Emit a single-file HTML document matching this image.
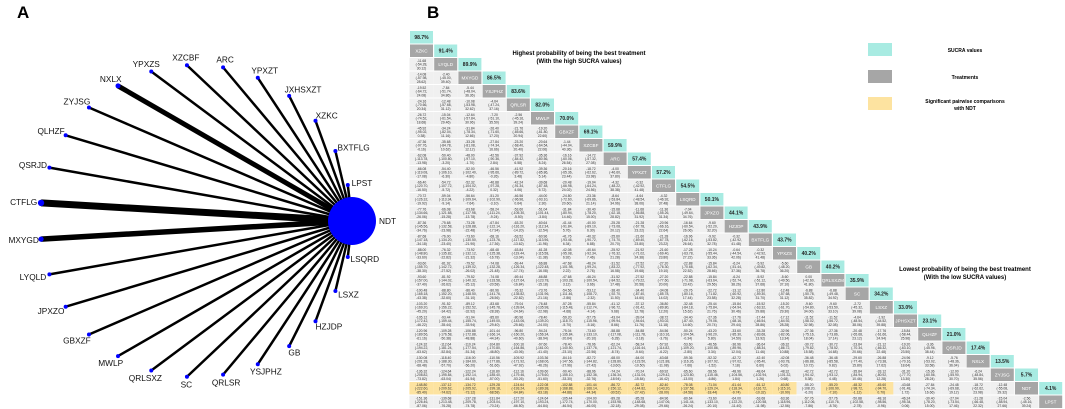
<!DOCTYPE html>
<html><head><meta charset="utf-8">
<style>
html,body{margin:0;padding:0;background:#fff;}
svg{display:block;font-family:"Liberation Sans",sans-serif;}
</style></head>
<body>
<svg id="fig" width="1065" height="409" viewBox="0 0 1065 409" xmlns="http://www.w3.org/2000/svg">
  <text x="17" y="18" font-size="17" font-weight="bold">A</text>
  <text x="427" y="18" font-size="17" font-weight="bold">B</text>
  <g id="network"></g>
  <g id="league"></g>
  <text x="579" y="55" font-size="6" font-weight="bold" text-anchor="middle">Highest probability of being the best treatment</text>
  <text x="579" y="63" font-size="6" font-weight="bold" text-anchor="middle">(With the high SUCRA values)</text>
  <text x="965" y="271" font-size="6" font-weight="bold" text-anchor="middle">Lowest probability of being the best treatment</text>
  <text x="965" y="279" font-size="6" font-weight="bold" text-anchor="middle">(With the low SUCRA values)</text>
  <g>
    <rect x="868" y="43" width="24" height="13" fill="#a8ebe2"/>
    <text x="965" y="52" font-size="5" font-weight="bold" text-anchor="middle">SUCRA values</text>
    <rect x="868" y="70" width="24" height="13" fill="#a6a6a6"/>
    <text x="965" y="79" font-size="5" font-weight="bold" text-anchor="middle">Treatments</text>
    <rect x="868" y="97" width="24" height="13" fill="#fde3a0"/>
    <text x="965" y="103" font-size="5" font-weight="bold" text-anchor="middle">Significant pairwise comparisons</text>
    <text x="965" y="110" font-size="5" font-weight="bold" text-anchor="middle">with NDT</text>
  </g>
</svg>
<script>
const NS='http://www.w3.org/2000/svg';
// ---- Panel A data ----
const nodeNames=['LPST','BXTFLG','XZKC','JXHSXZT','YPXZT','ARC','XZCBF','YPXZS','NXLX','ZYJSG','QLHZF','QSRJD','CTFLG','MXYGD','LYQLD','JPXZO','GBXZF','MWLP','QRLSXZ','SC','QRLSR','YSJPHZ','GB','HZJDP','LSXZ','LSQRD'];
const edgeWidths=[2.5,2.5,2.5,2.5,2.5,2.5,2.5,2.5,5,2.5,2.5,2.5,7,5.5,2.5,2.5,2.5,2.5,2.5,2.5,2.5,2.5,2.5,2.5,2.5,2.5];
const nodeSizes=[2,2,2,2,2,2,2,2,2.5,2,2,2,3.2,2.6,2,2,2,2,2,2,2,2,2,2,2,2];
const hubName='NDT';
const hubSize=24;

const cx=196,cy=221,R=156;
const net=document.getElementById('network');
function mk(tag,attrs,parent){const e=document.createElementNS(NS,tag);for(const k in attrs)e.setAttribute(k,attrs[k]);parent.appendChild(e);return e;}
const N=nodeNames.length+1;
const hx=cx+R, hy=cy;
nodeNames.forEach((nm,i)=>{
  const a=(i+1)*2*Math.PI/N;
  const x=cx+R*Math.cos(a), y=cy-R*Math.sin(a);
  const ln=mk('line',{x1:hx,y1:hy,x2:x,y2:y,stroke:'#000','stroke-width':edgeWidths[i]},net);
  
  
});
nodeNames.forEach((nm,i)=>{
  const a=(i+1)*2*Math.PI/N;
  const x=cx+R*Math.cos(a), y=cy-R*Math.sin(a);
  const c=mk('circle',{cx:x,cy:y,r:nodeSizes[i],fill:'#0000ff'},net);
  
  
  const hw=nm.length*2.9;
  const lx=x+Math.cos(a)*(hw+3), ly=y-Math.sin(a)*8+3;
  const t=mk('text',{x:lx,y:ly,'font-size':8.3,'text-anchor':'middle',fill:'#111'},net);
  t.textContent=nm;
  
  
});
const hub=mk('circle',{cx:hx,cy:hy,r:hubSize,fill:'#0000ff'},net);


const ht=mk('text',{x:hx+27,y:hy+3,'font-size':8.3,fill:'#111'},net);
ht.textContent=hubName;



// ---- Panel B data ----
const treatments=['XZKC','LYQLD','MXYGD','YSJPHZ','QRLSR','MWLP','GBXZF','XZCBF','ARC','YPXZT','CTFLG','LSQRD','JPXZO','HZJDP','BXTFLG','YPXZS','GB','QRLSXZM','SC','LSXZ','JPHSXZT','QLHZF','QSRJD','NXLX','ZYJSG','NDT','LPST'];
const sucra=[98.7,91.4,89.9,86.5,83.6,82.0,70.0,69.1,59.9,57.4,57.2,54.5,50.1,44.1,43.9,43.7,40.2,40.2,35.9,34.2,33.0,23.1,21.0,17.4,13.5,5.7,4.1];
const ndtSignificantCols=[0,1,2,3,4,5,6,7,8,9,10,11,12,13,14,15,17,18,19];

const lg=document.getElementById('league');
const X0=410,PX=24.2,CW=23,Y0=31,PY=13.5,CH=12.5;
const ndtRow=treatments.indexOf('NDT')+1;
for(let c=0;c<treatments.length;c++){
  const x=X0+c*PX;
  const ty=Y0+c*PY;
  const tr=mk('rect',{x:x,y:ty,width:CW,height:CH,fill:'#a8ebe2'},lg);
  
  
  const tt=mk('text',{x:x+CW/2,y:ty+8,'font-size':5,'font-weight':'bold','text-anchor':'middle',fill:'#222'},lg);
  tt.textContent=sucra[c].toFixed(1)+'%';
  
  
  const gy=Y0+(c+1)*PY;
  const gr=mk('rect',{x:x,y:gy,width:CW,height:CH,fill:'#a6a6a6'},lg);
  
  
  const gt=mk('text',{x:x+CW/2,y:gy+8,'font-size':4.6,'text-anchor':'middle',fill:'#fff'},lg);
  gt.textContent=treatments[c];
  
  
  for(let r=c+2;r<=treatments.length;r++){
    const y=Y0+r*PY;
    const yellow=(r===ndtRow && ndtSignificantCols.indexOf(c)>=0);
    const cr=mk('rect',{x:x-0.6,y:y,width:CW+1.2,height:CH,fill:yellow?'#fde3a0':'#f0f0f0'},lg);
    
    
    const d=(sucra[r-1]-sucra[c])*1.6;
    const lo=d-40-(r-c)*1.3, hi=d+40+(r-c)*0.9;
    const lines=[d.toFixed(2),'('+lo.toFixed(2)+',',hi.toFixed(2)+')'];
    lines.forEach((s,k)=>{
      const t=mk('text',{x:x+CW/2,y:y+3.9+k*3.7,'font-size':3.4,'text-anchor':'middle',fill:'#333'},lg);
      t.textContent=s;
      
      
    });
  }
}
</script>
</body></html>
